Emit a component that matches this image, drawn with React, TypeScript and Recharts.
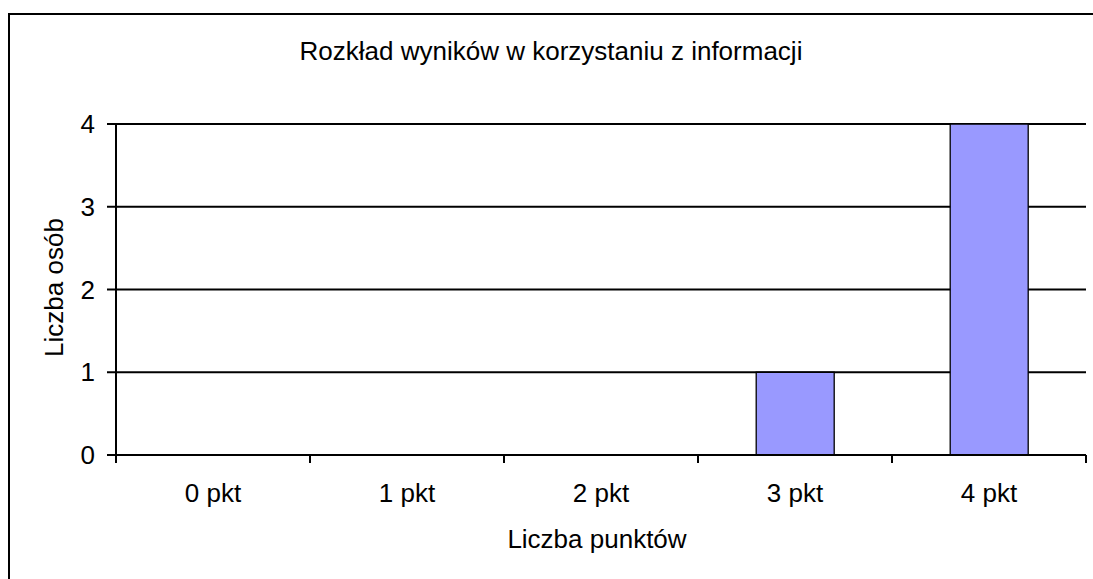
import { BarChart, Bar, XAxis, YAxis, CartesianGrid, Label } from 'recharts';

const categories = ['0 pkt', '1 pkt', '2 pkt', '3 pkt', '4 pkt'];
const counts = [0, 0, 0, 1, 4];
const yTicks = [0, 1, 2, 3, 4];
const title = 'Rozkład wyników w korzystaniu z informacji';
const xTitle = 'Liczba punktów';
const yTitle = 'Liczba osób';

// each category sits in the middle of a unit slot on a numeric axis,
// so tick marks can go on the slot edges like in the original
const data = categories.map((name, i) => ({ pos: i + 0.5, name, count: counts[i] }));
const xTicks = [...categories.flatMap((_, i) => [i, i + 0.5]), categories.length];

const FONT = '"Liberation Sans", Arial, sans-serif';
const FS = 26;

function SlotTick(props: any) {
  const { x, y, payload } = props;
  const v = payload.value;
  if (Number.isInteger(v)) {
    return <line x1={x} x2={x} y1={y - 8} y2={y} stroke="#000" strokeWidth={2} />;
  }
  return (
    <text x={x} y={y + 39} textAnchor="middle" fill="#000" fontSize={FS} fontFamily={FONT}>
      {categories[Math.floor(v)]}
    </text>
  );
}

export default function App() {
  return (
    <div
      style={{
        position: 'fixed',
        left: 0,
        top: 0,
        width: 1093,
        height: 579,
        overflow: 'hidden',
        background: '#fff',
        fontFamily: FONT,
      }}
    >
      {/* frame of the original picture, it runs past the right and bottom edges */}
      <div
        style={{
          position: 'absolute',
          left: 8,
          top: 13,
          width: 1200,
          height: 700,
          border: '2px solid #000',
          boxSizing: 'border-box',
        }}
      />
      <div
        style={{
          position: 'absolute',
          left: 10,
          top: 38,
          width: 1082,
          textAlign: 'center',
          fontSize: FS,
          lineHeight: `${FS}px`,
          color: '#000',
        }}
      >
        {title}
      </div>
      <div style={{ position: 'absolute', left: 0, top: 0 }}>
        <BarChart
          width={1093}
          height={579}
          data={data}
          margin={{ top: 124, right: 7, bottom: 0, left: 0 }}
          barCategoryGap="30%"
        >
          <CartesianGrid vertical={false} stroke="#000" strokeWidth={2} />
          <XAxis
            dataKey="pos"
            type="number"
            domain={[0, categories.length]}
            ticks={xTicks}
            interval={0}
            height={124}
            tickSize={8}
            tickMargin={0}
            tickLine={false}
            tick={<SlotTick />}
            axisLine={{ stroke: '#000', strokeWidth: 2 }}
          >
            <Label
              value={xTitle}
              position="insideBottom"
              offset={31}
              dx={-4}
              fill="#000"
              fontSize={FS}
              fontFamily={FONT}
            />
          </XAxis>
          <YAxis
            width={116}
            domain={[0, 4]}
            ticks={yTicks}
            interval={0}
            tickSize={9}
            tickMargin={12}
            tick={{ fill: '#000', fontSize: FS, fontFamily: FONT }}
            tickLine={{ stroke: '#000', strokeWidth: 2 }}
            axisLine={{ stroke: '#000', strokeWidth: 2 }}
          >
            <Label
              content={({ viewBox }: any) => (
                <text
                  x={0}
                  y={0}
                  transform={`translate(63, ${viewBox.y + viewBox.height / 2 - 2}) rotate(-90)`}
                  textAnchor="middle"
                  fill="#000"
                  fontSize={FS}
                  fontFamily={FONT}
                >
                  {yTitle}
                </text>
              )}
            />
          </YAxis>
          <Bar dataKey="count" fill="#9999FF" stroke="#000" strokeWidth={1.3} isAnimationActive={false} />
        </BarChart>
      </div>
    </div>
  );
}
